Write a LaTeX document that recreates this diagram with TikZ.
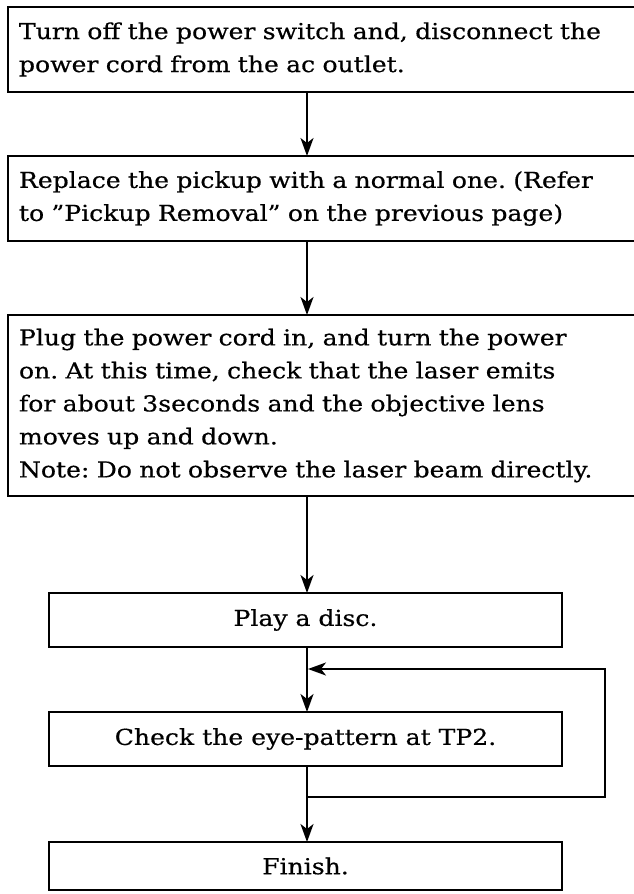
\documentclass[tikz,border=0pt]{standalone}
\usepackage{fontspec}
\setmainfont{DejaVu Serif}[FakeStretch=1.14,FakeBold=0.5]
\usetikzlibrary{arrows.meta}
\frenchspacing
\begin{document}
\begin{tikzpicture}[x=1pt,y=-1pt,
  box/.style={draw,line width=1.8pt,rectangle,outer sep=0pt,inner ysep=0pt,
    font=\fontsize{22}{33}\selectfont},
  wide/.style={box,inner xsep=11pt,text width=607pt,align=left,minimum width=629pt},
  narrow/.style={box,inner xsep=0pt,minimum width=513pt,align=center},
  arr/.style={line width=1.8pt,-{Stealth[length=18pt,width=13pt,inset=5pt]}}]
\useasboundingbox (0,0) rectangle (634,894);
\coordinate (ax) at (307,0);
\coordinate (lr) at (605,0);
\coordinate (ylo) at (0,797);
\coordinate (yhi) at (0,669);
\node[wide,minimum height=85pt] (b1) at (322.5,49.5) {Turn off the power switch and, disconnect the\\power cord from the ac outlet.};
\node[wide,minimum height=85pt] (b2) at (322.5,198.5) {Replace the pickup with a normal one. (Refer\\to "Pickup Removal" on the previous page)};
\node[wide,minimum height=181pt] (b3) at (322.5,405.5) {Plug the power cord in, and turn the power\\on. At this time, check that the laser emits\\for about 3seconds and the objective lens\\moves up and down.\\Note: Do not observe the laser beam directly.};
\node[narrow,minimum height=54pt] (p) at (305.5,620) {Play a disc.};
\node[narrow,minimum height=54pt] (c) at (305.5,739) {Check the eye-pattern at TP2.};
\node[narrow,minimum height=48pt] (f) at (305.5,866) {Finish.};
\draw[arr] (b1.south -| ax) -- (b2.north -| ax);
\draw[arr] (b2.south -| ax) -- (b3.north -| ax);
\draw[arr] (b3.south -| ax) -- (p.north -| ax);
\draw[arr] (p.south -| ax) -- (c.north -| ax);
\draw[arr] (c.south -| ax) -- (f.north -| ax);
\draw[arr] (ylo -| ax) -- (ylo -| lr) -- (yhi -| lr) -- ([xshift=1pt]yhi -| ax);
\end{tikzpicture}
\end{document}
